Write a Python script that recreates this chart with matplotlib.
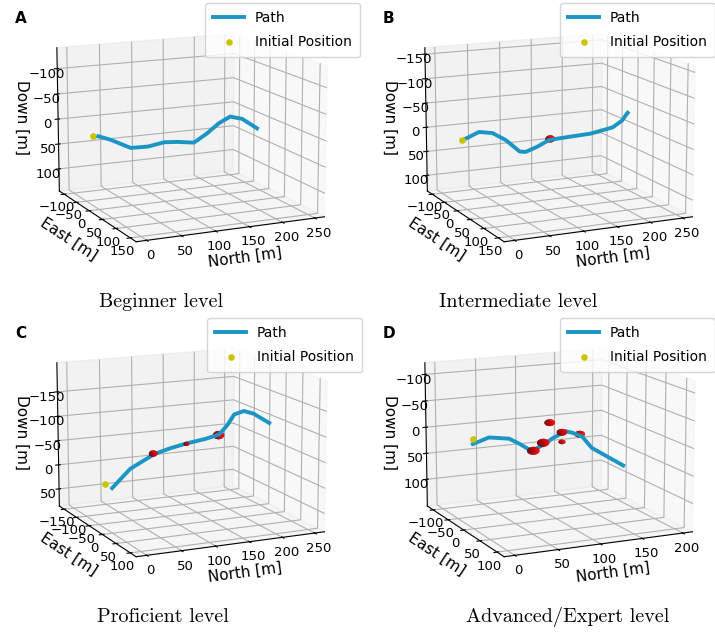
import matplotlib.pyplot as plt
import numpy as np

# path waypoints (north, east, down) per level
a_north = [0, 18, 48, 74, 99, 119, 145, 165, 184, 202, 221, 245]
a_east = [0] * 12
a_down = [3, 12, 32, 33, 28, 30, 35, 20, 2, -9, -2, 20]
a_start = (0, -20, 8)

b_north = [0, 19, 39, 59, 80, 89, 107, 125, 155, 190, 225, 240, 249]
b_east = [0] * 13
b_down = [-10, -20, -15, 2, 28, 30, 22, 11, 9, 7, -1, -13, -28]
b_start = (0, -15, -2)

c_north = [0, 27, 63, 87, 111, 139, 161, 174, 184, 199, 214, 239]
c_east = [0] * 12
c_down = [-3, -37, -61, -69, -75, -80, -86, -104, -123, -128, -121, -99]
c_start = (0, -28, -3)

d_north = [0, 19, 43, 55, 70, 84, 96, 112, 120, 132, 144, 160, 184]
d_east = [0] * 13
d_down = [-4, -13, -7, 4, 20, 11, 0, -10, -6, 3, 26, 42, 66]
d_start = (0, 0, -14)

# obstacles: (north, east, down, radius)
b_obs = [(127, 0, 9, 7)]
c_obs = [(61, 0, -62, 6), (111, 0, -74, 4), (160, 0, -85, 8)]
d_obs = [(72, 0, 20, 7), (84, 0, 7, 7), (92, 0, -29, 6), (107, 0, -9, 6),
         (107, 0, 9, 4), (129, 0, -2, 6)]

panels = [
    ("A", "Beginner level", a_north, a_east, a_down, a_start, [],
     (-15, 265), (-120, 170), (-141, 145), (0, 250), (-100, 150), (-100, 100)),
    ("B", "Intermediate level", b_north, b_east, b_down, b_start, b_obs,
     (-15, 265), (-120, 170), (-163, 133), (0, 250), (-100, 150), (-150, 100)),
    ("C", "Proficient level", c_north, c_east, c_down, c_start, c_obs,
     (-15, 265), (-170, 120), (-209, 86), (0, 250), (-150, 100), (-150, 50)),
    ("D", "Advanced/Expert level", d_north, d_east, d_down, d_start, d_obs,
     (-12, 212), (-120, 120), (-122, 152), (0, 200), (-100, 100), (-100, 100)),
]

fig = plt.figure(figsize=(7.15, 6.32), dpi=100)
W, H = 715.0, 632.0
# panel offsets in pixels (left, top)
offsets = [(0, 0), (368, 0), (0, 315), (368, 315)]
legend_x = [205, 560, 207, 560]
caption_x = [161, 518, 163, 568]

for i, ((letter, caption, n, e, d, st, obs, xl, yl, zl, xt, yt, zt), (ox, oy)) in enumerate(zip(panels, offsets)):
    cx, cy = 184 + ox, 135 + oy
    ax = fig.add_axes([cx / W - 0.25, 1 - cy / H - 0.25, 0.5, 0.5], projection='3d')
    ax.set_facecolor('none')
    ax.plot(n, e, d, color='#1a95c4', lw=2.8, label='Path', zorder=3)
    ax.scatter([st[0]], [st[1]], [st[2]], color='#c8c400', s=14,
               depthshade=False, label='Initial Position')
    u, v = np.meshgrid(np.linspace(0, 2 * np.pi, 20), np.linspace(0, np.pi, 12))
    for ocx, ocy, ocz, r in obs:
        ax.plot_surface(ocx + r * np.cos(u) * np.sin(v),
                        ocy + r * np.sin(u) * np.sin(v),
                        ocz + r * np.cos(v), color='#ff0000', linewidth=0,
                        shade=True)
    ax.set_xlim(*xl)
    ax.set_ylim(yl[1], yl[0])
    ax.set_zlim(zl[1], zl[0])
    ax.set_xticks(np.arange(xt[0], xt[1] + 1, 50))
    ax.set_yticks(np.arange(yt[0], yt[1] + 1, 50))
    ax.set_zticks(np.arange(zt[0], zt[1] + 1, 50))
    ax.set_xlabel('North [m]', fontsize=11, labelpad=-5)
    ax.set_ylabel('East [m]', fontsize=11, labelpad=-4)
    ax.zaxis.set_rotate_label(False)
    ax.set_zlabel('Down [m]', fontsize=11, labelpad=-4, rotation=270)
    ax.tick_params(labelsize=9.5, pad=-3)
    ax.view_init(elev=13, azim=-115)
    ax.set_box_aspect(None, zoom=0.99)
    ax.legend(loc='upper left', fontsize=10, borderaxespad=0, borderpad=0.6,
              labelspacing=0.7, handlelength=2.2,
              bbox_to_anchor=((legend_x[i] + ox - (368 if ox else 0)) / W, 1 - (3 + oy) / H),
              bbox_transform=fig.transFigure)
    fig.text((15 + ox) / W, 1 - (23 + oy) / H, letter, fontweight='bold', fontsize=11)
    fig.text(caption_x[i] / W, 1 - (302 + oy) / H, caption, family='cmr10',
             fontsize=14.5, ha='center', va='center')

fig.savefig('out.png', dpi=100)
